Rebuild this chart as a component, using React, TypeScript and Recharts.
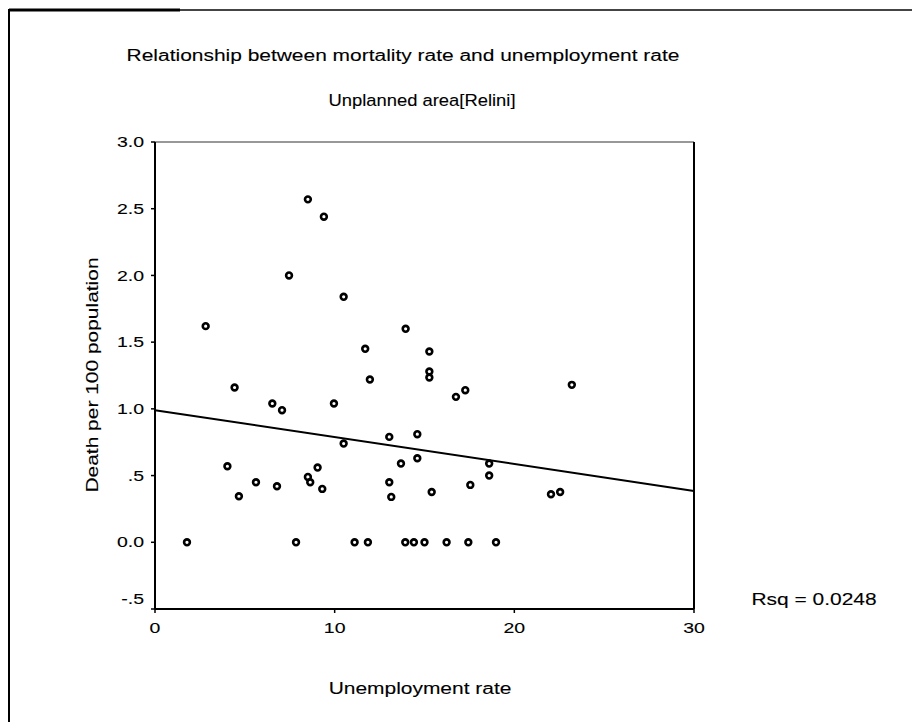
import React from 'react';
import { ScatterChart, Scatter, XAxis, YAxis, ReferenceLine } from 'recharts';

// Unemployment rate (x) and deaths per 100 population (y)
const unemployment = [
  1.78, 2.82, 4.03, 4.43, 4.67, 5.62, 6.53, 6.79, 7.07, 7.46,
  7.85, 8.51, 8.51, 8.64, 9.05, 9.31, 9.4, 9.96, 10.5, 10.5,
  11.11, 11.7, 11.85, 11.96, 13.04, 13.04, 13.15, 13.69, 13.93, 13.95,
  14.41, 14.6, 14.6, 15.0, 15.27, 15.27, 15.27, 15.4, 16.23, 16.75,
  17.27, 17.44, 17.55, 18.6, 18.6, 18.98, 22.04, 22.55, 23.2,
];
const mortality = [
  0.0, 1.62, 0.57, 1.16, 0.345, 0.45, 1.04, 0.42, 0.99, 2.0,
  0.0, 2.57, 0.49, 0.45, 0.56, 0.4, 2.44, 1.04, 1.84, 0.74,
  0.0, 1.45, 0.0, 1.22, 0.79, 0.45, 0.34, 0.59, 0.0, 1.6,
  0.0, 0.81, 0.63, 0.0, 1.43, 1.28, 1.235, 0.377, 0.0, 1.09,
  1.14, 0.0, 0.43, 0.59, 0.5, 0.0, 0.36, 0.377, 1.18,
];

// Linear fit line end points
const fitX = [0, 30];
const fitY = [0.99, 0.385];

const xTicks = [0, 10, 20, 30];
const yTicks = [-0.5, 0, 0.5, 1, 1.5, 2, 2.5, 3];
const yTickLabels = ['-.5', '0.0', '.5', '1.0', '1.5', '2.0', '2.5', '3.0'];

const titleText = 'Relationship between mortality rate and unemployment rate';
const subtitleText = 'Unplanned area[Relini]';
const xTitle = 'Unemployment rate';
const yTitle = 'Death per 100 population';
const rsqText = 'Rsq = 0.0248';

const points = unemployment.map((x, i) => ({ x, y: mortality[i] }));
const fitLine = fitX.map((x, i) => ({ x, y: fitY[i] }));

const FONT = '"Liberation Sans", Arial, Helvetica, sans-serif';

const StretchText = ({ x, y, anchor = 'middle', size = 16, stretch = 1.31, rotate = 0, children }: any) => (
  <g transform={`translate(${x},${y}) rotate(${rotate})`}>
    <text
      transform={`scale(${stretch},1)`}
      textAnchor={anchor}
      dominantBaseline="central"
      fontSize={size}
      fontFamily={FONT}
      fill="#000"
      stroke="#000"
      strokeWidth={0.1}
    >
      {children}
    </text>
  </g>
);

const YTick = (props: any) => {
  const { x, y, payload } = props;
  const idx = yTicks.indexOf(payload.value);
  const label = idx >= 0 ? yTickLabels[idx] : String(payload.value);
  const dy = payload.value === -0.5 ? -10 : 0;
  return (
    <StretchText x={x} y={y + dy} anchor="end" size={15} stretch={1.3}>
      {label}
    </StretchText>
  );
};

const XTick = (props: any) => {
  const { x, y, payload } = props;
  return (
    <StretchText x={x} y={y + 7} anchor="middle" size={15} stretch={1.3}>
      {String(payload.value)}
    </StretchText>
  );
};

const Marker = (props: any) => {
  const { cx, cy } = props;
  if (cx == null || cy == null) return <g />;
  return <circle cx={cx} cy={cy} r={2.9} fill="#fff" stroke="#000" strokeWidth={2.6} />;
};

const NoMarker = () => <g />;

export default function App() {
  return (
    <div style={{ position: 'absolute', left: 0, top: 0, width: 912, height: 722, background: '#fff' }}>
      <div style={{ position: 'absolute', left: 0, top: 0 }}>
        <ScatterChart
          width={912}
          height={722}
          margin={{ top: 142, right: 218, bottom: 83, left: 95 }}
        >
          <XAxis
            type="number"
            dataKey="x"
            domain={[0, 30]}
            ticks={xTicks}
            interval={0}
            height={30}
            axisLine={{ stroke: '#000', strokeWidth: 2 }}
            tickLine={{ stroke: '#000', strokeWidth: 1.5 }}
            tickSize={4}
            tickMargin={8}
            tick={<XTick />}
          />
          <YAxis
            type="number"
            dataKey="y"
            domain={[-0.5, 3]}
            ticks={yTicks}
            interval={0}
            width={60}
            axisLine={{ stroke: '#000', strokeWidth: 2 }}
            tickLine={{ stroke: '#000', strokeWidth: 1.5 }}
            tickSize={4}
            tickMargin={7}
            tick={<YTick />}
          />
          <ReferenceLine y={3} stroke="#333" strokeWidth={1.2} />
          <ReferenceLine x={30} stroke="#000" strokeWidth={2} />
          <Scatter
            data={fitLine}
            line={{ stroke: '#000', strokeWidth: 2 }}
            shape={<NoMarker />}
            isAnimationActive={false}
          />
          <Scatter data={points} shape={<Marker />} isAnimationActive={false} />
        </ScatterChart>
      </div>
      <svg
        width={912}
        height={722}
        style={{ position: 'absolute', left: 0, top: 0, pointerEvents: 'none' }}
      >
        <line x1={9} y1={10} x2={180} y2={10} stroke="#000" strokeWidth={3} />
        <line x1={180} y1={10} x2={912} y2={10} stroke="#444" strokeWidth={1.8} />
        <line x1={9} y1={9} x2={9} y2={722} stroke="#000" strokeWidth={2} />
        <StretchText x={403} y={55}>{titleText}</StretchText>
        <StretchText x={422} y={100} stretch={1.15}>{subtitleText}</StretchText>
        <StretchText x={92} y={375} rotate={-90}>{yTitle}</StretchText>
        <StretchText x={420} y={688}>{xTitle}</StretchText>
        <StretchText x={814} y={599}>{rsqText}</StretchText>
      </svg>
    </div>
  );
}
